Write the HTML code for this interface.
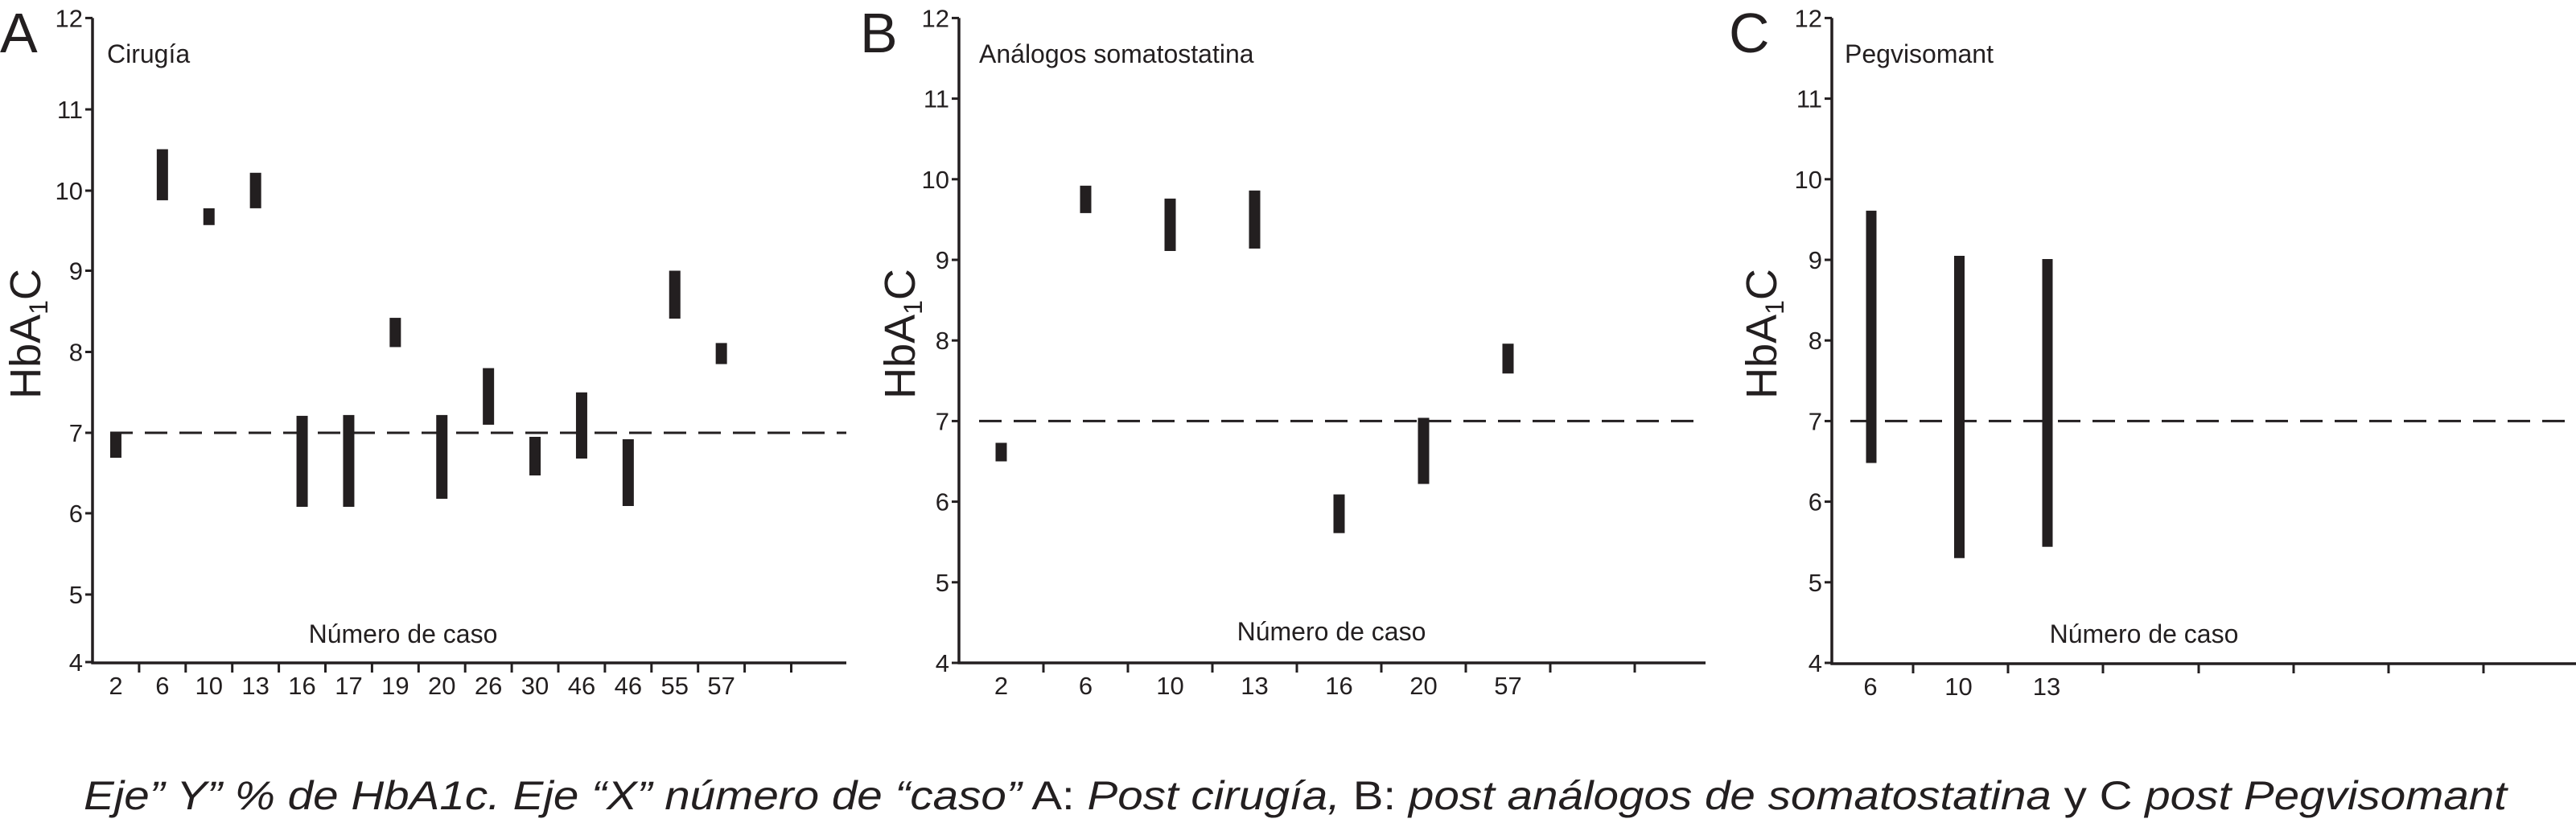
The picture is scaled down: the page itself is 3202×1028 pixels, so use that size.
<!DOCTYPE html>
<html><head><meta charset="utf-8"><style>
html,body{margin:0;padding:0;background:#fff;}
svg{display:block;font-family:"Liberation Sans",Arial,sans-serif;}
</style></head><body>
<svg id="fig" width="3202" height="1028" viewBox="0 0 3202 1028" xmlns="http://www.w3.org/2000/svg">
<g id="layer"></g>
<text x="104" y="1006" font-size="50" fill="#231f20" textLength="3012" lengthAdjust="spacingAndGlyphs"><tspan font-style="italic">Eje” Y”  % de HbA1c. Eje “X” número de “caso”</tspan> A: <tspan font-style="italic">Post cirugía,</tspan> B: <tspan font-style="italic">post análogos de somatostatina</tspan> y C <tspan font-style="italic">post Pegvisomant</tspan></text>
</svg>
<script>
// Panel A data
const catsA = ["2","6","10","13","16","17","19","20","26","30","46","46","55","57"];
const lowA  = [6.69,9.88,9.57,9.78,6.08,6.08,8.06,6.18,7.10,6.47,6.68,6.09,8.41,7.85];
const highA = [7.00,10.51,9.78,10.22,7.21,7.22,8.42,7.22,7.80,6.95,7.50,6.92,9.00,8.11];
// Panel B data
const catsB = ["2","6","10","13","16","20","57"];
const lowB  = [6.50,9.58,9.11,9.14,5.61,6.22,7.59];
const highB = [6.73,9.92,9.76,9.86,6.09,7.04,7.96];
// Panel C data
const catsC = ["6","10","13"];
const lowC  = [6.48,5.30,5.44];
const highC = [9.61,9.05,9.01];
const yTicks = [4,5,6,7,8,9,10,11,12];
const refValue = 7;

const NS="http://www.w3.org/2000/svg";
const layer=document.getElementById('layer');
const C="#231f20";
function mk(tag,attrs,parent){const e=document.createElementNS(NS,tag);for(const k in attrs)e.setAttribute(k,attrs[k]);(parent||layer).appendChild(e);return e;}

function panel(p){
  const g=mk('g',{});
  
  
  const y=p.yScale;
  const ya=mk('line',{x1:p.ax,y1:y(12),x2:p.ax,y2:p.base+1.5,stroke:C,'stroke-width':3.5},g);
  
  
  yTicks.forEach(v=>{
    const t=mk('line',{x1:p.ax-9,y1:y(v),x2:p.ax,y2:y(v),stroke:C,'stroke-width':3},g);
    
    
    const l=mk('text',{x:p.ax-12,y:y(v)+11,'font-size':31,'text-anchor':'end',fill:C},g);
    l.textContent=v;
    
    
  });
  const xa=mk('line',{x1:p.ax-1.5,y1:p.base,x2:p.xEnd,y2:p.base,stroke:C,'stroke-width':3.5},g);
  
  
  p.xTicks.forEach(tx=>{
    const t=mk('line',{x1:tx,y1:p.base,x2:tx,y2:p.base+12,stroke:C,'stroke-width':3},g);
    
    
  });
  const rl=mk('line',{x1:p.dashStart,y1:y(refValue),x2:p.xEnd,y2:y(refValue),stroke:C,'stroke-width':3,'stroke-dasharray':'28,15'},g);
  
  
  p.cats.forEach((c,i)=>{
    const cx=p.x(i);
    const b=mk('rect',{x:cx-p.bw/2,y:y(p.high[i]),width:p.bw,height:y(p.low[i])-y(p.high[i]),fill:C},g);
    
    
    const l=mk('text',{x:p.lx(i),y:p.base+39,'font-size':31,'text-anchor':'middle',fill:C},g);
    l.textContent=c;
    
    
  });
  const L=mk('text',{x:p.letterX,y:65,'font-size':70,fill:C},g);
  L.textContent=p.id;
  
  
  const T=mk('text',{x:p.titleX,y:78,'font-size':32,fill:C},g);
  T.textContent=p.title;
  
  
  const X=mk('text',{x:p.xlabX,y:p.xlabY,'font-size':32,'text-anchor':'middle',fill:C},g);
  X.textContent="Número de caso";
  
  
  const Y=mk('text',{x:0,y:0,'font-size':54,'text-anchor':'middle',fill:C,transform:`translate(${p.ylabX},415) rotate(-90)`},g);
  
  
  const s1=mk('tspan',{},Y);s1.textContent="HbA";
  const s2=mk('tspan',{'font-size':32,dy:9},Y);s2.textContent="1";
  const s3=mk('tspan',{dy:-9},Y);s3.textContent="C";
}

function piecewise(vals,pos){return v=>{for(let i=0;i<vals.length-1;i++){if(v<=vals[i+1]||i===vals.length-2){const t=(v-vals[i])/(vals[i+1]-vals[i]);return pos[i]+t*(pos[i+1]-pos[i]);}}};}
function lin(v){return 824-(v-4)*(824-22.4)/8;}

const stepA=57.9, axA=115;
const xtA=[];for(let k=1;k<=15;k++)xtA.push(axA+k*stepA);
panel({id:'A',cats:catsA,low:lowA,high:highA,ax:axA,base:824,xEnd:1052,xTicks:xtA,
  yScale:piecewise(yTicks,[823,739,638,538,437.5,336.5,237,136,22.4]),
  x:i=>axA+stepA*(i+0.5),lx:i=>axA+stepA*(i+0.5),bw:14,dashStart:137,
  letterX:0,titleX:133,title:"Cirugía",xlabX:501,xlabY:799,ylabX:50});
const stepB=105, axB=1192;
const xtB=[];for(let k=1;k<=8;k++)xtB.push(axB+k*stepB);
panel({id:'B',cats:catsB,low:lowB,high:highB,ax:axB,base:824,xEnd:2120,xTicks:xtB,
  yScale:lin,x:i=>axB+stepB*(i+0.5),lx:i=>axB+stepB*(i+0.5),bw:14,dashStart:1217,
  letterX:1069,titleX:1217,title:"Análogos somatostatina",xlabX:1655,xlabY:796,ylabX:1137});
const axC=2277;
const xtC=[2378,2496,2614,2733,2851,2969,3087];
panel({id:'C',cats:catsC,low:lowC,high:highC,ax:axC,base:825,xEnd:3202,xTicks:xtC,
  yScale:lin,x:i=>2326+i*109.5,lx:i=>2325+i*109.5,bw:13,dashStart:2300,
  letterX:2149,titleX:2293,title:"Pegvisomant",xlabX:2665,xlabY:799,ylabX:2208});
</script>
</body></html>
